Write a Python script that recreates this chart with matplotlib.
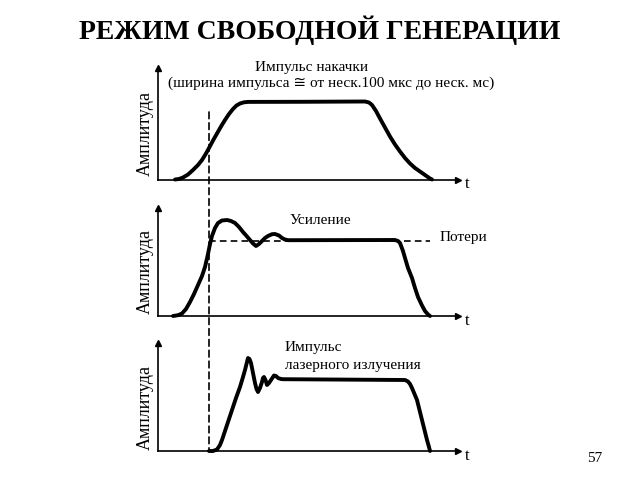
import matplotlib
matplotlib.use("Agg")
import matplotlib.pyplot as plt
from matplotlib.patches import ConnectionPatch

plt.rcParams['font.family'] = ['Liberation Serif', 'DejaVu Serif', 'DejaVu Sans']

# данные (условные единицы времени и амплитуды)
pump_t = [17, 21, 25, 30, 35, 40, 44, 48, 51, 55, 59, 63, 67, 71, 75, 78.5, 82, 86, 90,
          142, 207, 211, 214, 218, 222, 227, 232, 237, 242, 247, 252, 257, 262, 267, 272, 274]
pump_a = [0, 0.5, 2, 5, 9.5, 14.5, 19.5, 26, 31.5, 39, 46, 53, 59.5, 65.5, 70.5, 74, 76, 77.2, 77.6,
          77.7, 78, 77, 74.5, 68.5, 61, 52, 43, 35, 28, 21.5, 16, 11.5, 8, 4.5, 1, 0]

gain_t = [15, 20, 24, 28, 32, 36, 40, 44, 47, 50, 52, 54, 57, 60, 64, 69, 73, 77, 81, 85, 89,
          92, 95, 98, 101, 104, 107, 110, 114, 117, 121, 124, 127, 130,
          237, 240, 242, 245, 247, 250, 254, 257, 260, 264, 267, 270, 272]
gain_a = [0, 0.8, 2.5, 7, 14, 22, 31, 40, 49, 62, 72, 80, 88, 93, 95.5, 96, 95, 93, 89, 84, 79.5,
          76, 72.5, 70, 72, 75, 78, 80, 81.8, 82, 80.5, 78, 76.5, 75.8,
          76, 75, 73, 65, 58, 48, 38, 28, 19, 10.5, 5, 1.5, 0]
loss_t = [51, 272]
loss_a = [75.5, 75.5]

laser_t = [51, 55, 59, 62, 64, 67, 69, 72, 75, 78, 82, 85, 87, 89, 90, 91.5, 93, 95, 97, 98.5,
           100, 102, 104, 105, 106, 107.5, 109, 111, 113, 116, 118, 120, 123, 125,
           247, 250, 252, 254, 256.5, 259, 261.5, 264, 266.5, 269, 271, 272]
laser_a = [0, 0, 1.5, 6, 11, 20, 26, 35, 44, 53, 64, 74, 81, 89, 93, 92, 88, 78, 68, 62,
           59, 63, 69, 73, 74, 71, 66, 68, 71, 75.5, 75, 73, 72, 71.8,
           71, 69.5, 67, 63, 57, 51, 41, 31, 21, 11, 4, 0]

threshold_t = 51

fig = plt.figure(figsize=(6.4, 4.8), dpi=100)


def make_axes(bottom_px, top_px):
    W, H = 640, 480
    ax = fig.add_axes([158 / W, (H - bottom_px) / H, 300 / W, (bottom_px - top_px) / H])
    ax.set_xlim(0, 300)
    ax.set_ylim(0, bottom_px - top_px)
    for s in ['top', 'right']:
        ax.spines[s].set_visible(False)
    for s in ['left', 'bottom']:
        ax.spines[s].set_linewidth(1.2)
    ax.set_xticks([])
    ax.set_yticks([])
    ax.patch.set_alpha(0)
    ax.plot(1, 0, '>k', ms=5, transform=ax.transAxes, clip_on=False)
    ax.plot(0, 1, '^k', ms=5, transform=ax.transAxes, clip_on=False)
    ax.text(309, -5, 't', fontsize=12, ha='center', va='center', clip_on=False)
    ax.text(-13, (bottom_px - top_px) / 2 - 10, 'Амплитуда', rotation=90, fontsize=13,
            ha='center', va='center', clip_on=False)
    return ax


def curve(ax, t, a):
    ax.plot(t, a, color='black', lw=2.8, solid_joinstyle='round', solid_capstyle='round', clip_on=False)


ax1 = make_axes(179.5, 68)
ax2 = make_axes(316, 208)
ax3 = make_axes(451, 343)

curve(ax1, pump_t, pump_a)
ax1.text(97, 112.5, 'Импульс накачки', fontsize=11, ha='left', va='center', clip_on=False)
ax1.text(10, 96.5, '(ширина импульса ≅ от неск.100 мкс до неск. мс)', fontsize=11,
         ha='left', va='center', clip_on=False)

ax2.plot(loss_t, loss_a, color='black', lw=1.2, ls=(0, (4, 2.5)), clip_on=False)
curve(ax2, gain_t, gain_a)
ax2.text(132, 96, 'Усиление', fontsize=11, ha='left', va='center', clip_on=False)
ax2.text(282, 78, 'Потери', fontsize=11, ha='left', va='center', clip_on=False)

curve(ax3, laser_t, laser_a)
ax3.text(127, 103, 'Импульс', fontsize=11, ha='left', va='center', clip_on=False)
ax3.text(127, 85, 'лазерного излучения', fontsize=11, ha='left', va='center', clip_on=False)

con = ConnectionPatch(xyA=(threshold_t, 67.5), coordsA=ax1.transData,
                      xyB=(threshold_t, 0), coordsB=ax3.transData,
                      color='black', lw=1.2, ls=(0, (4, 2.5)))
fig.add_artist(con)

fig.text(0.5, 1 - 30 / 480, 'РЕЖИМ СВОБОДНОЙ ГЕНЕРАЦИИ', fontsize=20, fontweight='bold',
         ha='center', va='center')
fig.text(595 / 640, 1 - 458 / 480, '57', fontsize=11, ha='center', va='center')

fig.savefig('out.png', dpi=100)
